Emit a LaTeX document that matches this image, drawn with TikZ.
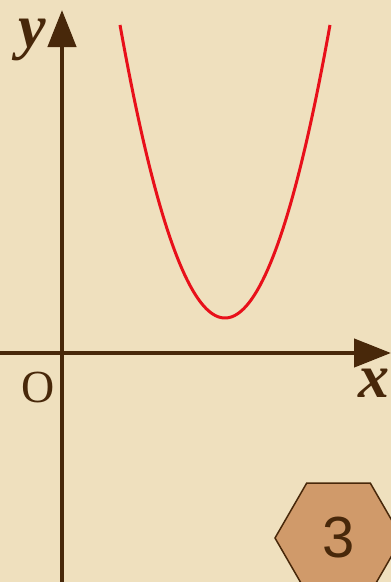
\documentclass[tikz,border=0pt]{standalone}
\usepackage{fontspec}
\setmainfont{Liberation Serif}
\newfontfamily\hexfont{Liberation Sans}
\usetikzlibrary{arrows.meta,shapes.geometric}
\definecolor{paper}{RGB}{239,224,190}
\definecolor{axisbrown}{RGB}{72,40,10}
\definecolor{curvered}{RGB}{232,16,26}
\definecolor{hexfill}{RGB}{208,154,106}
\tikzset{
  axisline/.style={draw=axisbrown, line width=4.5pt, -{Triangle[length=37pt,width=28pt]}},
  axislabel/.style={text=axisbrown, font=\fontsize{62}{64}\selectfont\bfseries\itshape, inner sep=0pt, anchor=base, text height=0.47em, text depth=0.2em},
  originlabel/.style={text=axisbrown, font=\fontsize{46}{48}\selectfont, inner sep=0pt, anchor=base, text height=0.66em, text depth=0pt},
  curve/.style={draw=curvered, line width=3pt},
  hexbox/.style={regular polygon, regular polygon sides=6, minimum size=127pt, inner sep=0pt,
    fill=hexfill, draw=axisbrown, line width=1.5pt, text=axisbrown,
    font=\hexfont\fontsize{58}{60}\selectfont}
}
\begin{document}
\begin{tikzpicture}[x=1pt,y=-1pt]
\useasboundingbox (0,0) rectangle (391,582);
\clip (0,0) rectangle (391,582);
\fill[paper] (0,0) rectangle (391,582);
% axes
\coordinate (ybot) at (62,582);
\coordinate (ytop) at (62,10);
\coordinate (xleft) at (0,353);
\coordinate (xright) at (391,353);
\draw[axisline] (ybot) -- (ytop);
\draw[axisline] (xleft) -- (xright);
\node[axislabel] (ylab) at (32,47) {y};
\node[axislabel] (xlab) at (374,397) {x};
\node[originlabel] (olab) at (38,402) {O};
% parabola
\draw[curve] plot[domain=120:330, samples=120] (\x, {318-0.02658*(\x-225)^2});
% hexagon
\node[hexbox] (hex) at (338.5,538) {3};
\end{tikzpicture}
\end{document}
